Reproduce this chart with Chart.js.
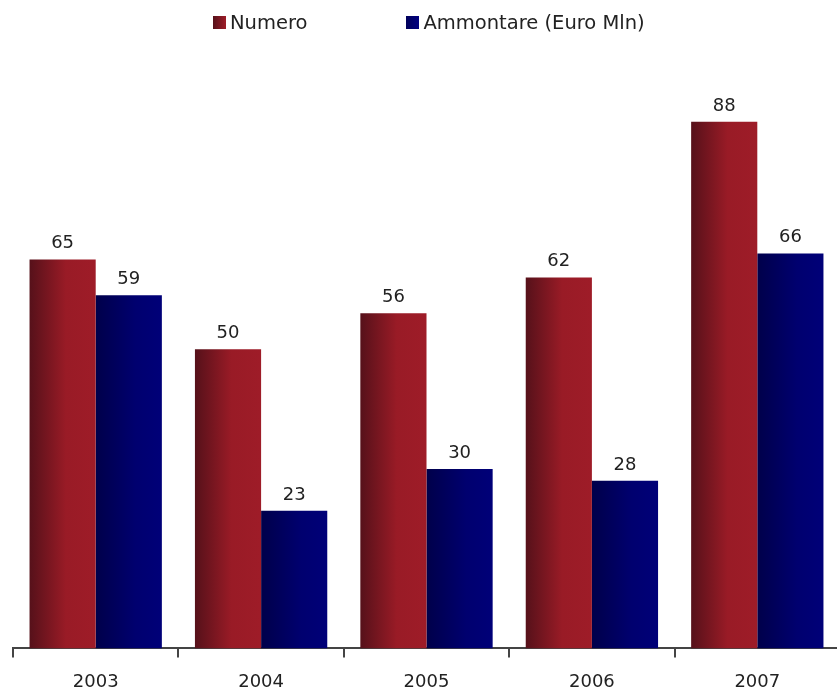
<!DOCTYPE html>
<html>
<head>
<meta charset="utf-8">
<script src="https://cdn.jsdelivr.net/npm/chart.js@4/dist/chart.umd.min.js"></script>
<style>
  html, body { margin: 0; padding: 0; background: #ffffff; overflow: hidden; }
  #wrap { position: relative; width: 837px; height: 691px; overflow: hidden; }
  #c { position: absolute; left: 0; top: 0; }
  #legend {
    position: absolute; left: 213px; top: 11px;
    display: flex; align-items: center; gap: 99px;
    font-family: "DejaVu Sans", sans-serif; font-size: 19.5px; color: #222;
  }
  #legend .item { display: flex; align-items: center; gap: 4px; }
  #legend .box { width: 13px; height: 13px; }
</style>
</head>
<body>
<div id="wrap">
  <canvas id="c" width="840" height="691"></canvas>
  <div id="legend"></div>
</div>
<script>
const years = ['2003', '2004', '2005', '2006', '2007'];
const numero = [65, 50, 56, 62, 88];
const ammontare = [59, 23, 30, 28, 66];
const seriesNames = ['Numero', 'Ammontare (Euro Mln)'];

const FONT = '"DejaVu Sans", sans-serif';
const CAT_PCT = 0.8;

// horizontal shading across each bar, dark on the left edge
const shades = [
  [[0, '#56111a'], [0.55, '#991b26'], [1, '#9e1c28']],
  [[0, '#00004a'], [0.6, '#00006f'], [1, '#000078']]
];

function barFill(ctx) {
  const chart = ctx.chart;
  const x = chart.scales && chart.scales.x;
  const stops = shades[ctx.datasetIndex];
  if (ctx.type !== 'data' || !x || !chart.chartArea) return stops[1][1];
  const center = x.getPixelForValue(ctx.dataIndex);
  const barW = (x.width / years.length) * CAT_PCT / 2;
  const left = ctx.datasetIndex === 0 ? center - barW : center;
  const g = chart.ctx.createLinearGradient(left, 0, left + barW, 0);
  stops.forEach(s => g.addColorStop(s[0], s[1]));
  return g;
}

// value printed above each bar
const valueLabels = {
  id: 'valueLabels',
  afterDatasetsDraw(chart) {
    const c = chart.ctx;
    c.save();
    c.font = '18px ' + FONT;
    c.fillStyle = '#222';
    c.textAlign = 'center';
    c.textBaseline = 'alphabetic';
    chart.data.datasets.forEach((ds, di) => {
      chart.getDatasetMeta(di).data.forEach((el, i) => {
        c.fillText(String(ds.data[i]), el.x, el.y - 11);
      });
    });
    c.restore();
  }
};

const chart = new Chart(document.getElementById('c'), {
  type: 'bar',
  data: {
    labels: years,
    datasets: [
      { label: seriesNames[0], data: numero, backgroundColor: barFill, borderWidth: 0 },
      { label: seriesNames[1], data: ammontare, backgroundColor: barFill, borderWidth: 0 }
    ]
  },
  options: {
    responsive: false,
    animation: false,
    layout: { padding: { top: 50, left: 13, right: 0, bottom: -16 } },
    datasets: { bar: { categoryPercentage: CAT_PCT, barPercentage: 1.0 } },
    plugins: { legend: { display: false }, tooltip: { enabled: false } },
    scales: {
      x: {
        offset: true,
        grid: {
          offset: true, drawOnChartArea: false, drawTicks: true,
          tickLength: 9, color: '#444', lineWidth: 2
        },
        border: { display: true, color: '#444', width: 2 },
        ticks: { color: '#222', padding: 14, font: { family: FONT, size: 18 } }
      },
      y: { display: false, min: 0, max: 100 }
    }
  },
  plugins: [valueLabels]
});

// legend built from the chart's datasets
const legendEl = document.getElementById('legend');
const boxFills = [
  'linear-gradient(to right, #56111a, #9e1c28)',
  'linear-gradient(to right, #00005a, #000080)'
];
chart.data.datasets.forEach((ds, i) => {
  const item = document.createElement('div');
  item.className = 'item';
  const box = document.createElement('span');
  box.className = 'box';
  box.style.background = boxFills[i];
  const txt = document.createElement('span');
  txt.textContent = ds.label;
  item.appendChild(box);
  item.appendChild(txt);
  legendEl.appendChild(item);
});
</script>
</body>
</html>
